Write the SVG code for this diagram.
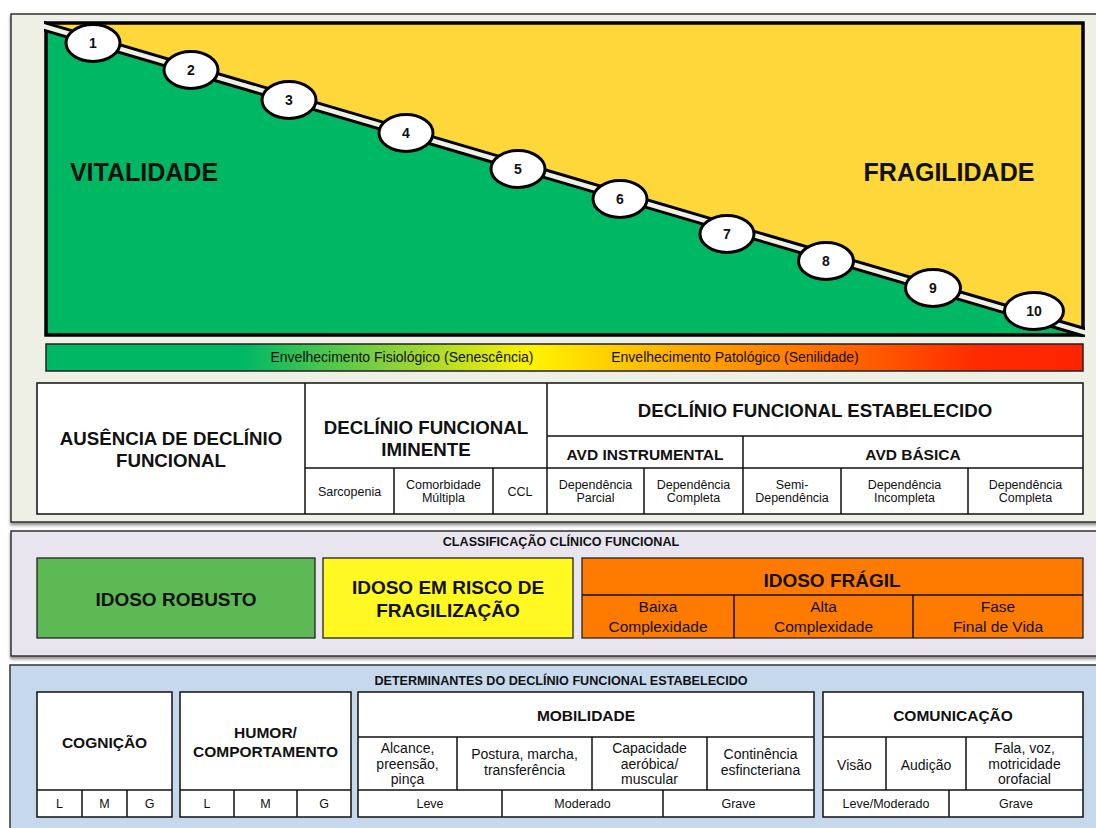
<svg xmlns="http://www.w3.org/2000/svg" width="1096" height="828" viewBox="0 0 1096 828">
<defs>
<linearGradient id="bar" x1="0" y1="0" x2="1" y2="0">
<stop offset="0" stop-color="#00b864"/>
<stop offset="0.19" stop-color="#00b864"/>
<stop offset="0.34" stop-color="#8fd23a"/>
<stop offset="0.47" stop-color="#fff200"/>
<stop offset="0.62" stop-color="#ffa800"/>
<stop offset="0.8" stop-color="#ff5a00"/>
<stop offset="0.9" stop-color="#ff2a00"/>
<stop offset="1" stop-color="#ff2400"/>
</linearGradient>
<clipPath id="chartClip"><rect x="44" y="20" width="1041" height="317"/></clipPath>
<filter id="sh" x="-5%" y="-5%" width="110%" height="115%">
<feDropShadow dx="0" dy="2.5" stdDeviation="1.5" flood-color="#000" flood-opacity="0.45"/>
</filter>
</defs>
<style>
text{font-family:"Liberation Sans",Arial,sans-serif;fill:#111;text-anchor:middle}
.b{font-weight:bold}
.panel{stroke:#333;stroke-width:1.5}
.cell{fill:#fff;stroke:#111;stroke-width:1.5}
.ln{stroke:#111;stroke-width:1.5;fill:none}
.num{font-weight:bold;font-size:14px}
.el{fill:#fff;stroke:#000;stroke-width:3}
.s{font-size:12.5px}
.m{font-size:14px}
.h{font-weight:bold;font-size:18.7px}
.h2{font-weight:bold;font-size:15.5px}
.cls{font-weight:bold;font-size:19px}
.t{font-weight:bold;font-size:12.6px}
</style>
<rect width="1096" height="828" fill="#ffffff"/>

<g id="panel-top">
<rect class="panel" x="11" y="14" width="1100" height="508" fill="#eef0e5" filter="url(#sh)"/>
</g>

<g id="chart">
<rect x="46" y="23" width="1037" height="312" fill="#fed73b"/>
<polygon points="46,27 1083,332 1083,335 46,335" fill="#00b864"/>
<rect x="46" y="23" width="1037" height="312" fill="none" stroke="#000" stroke-width="3.5"/>
<g clip-path="url(#chartClip)">
<line x1="40" y1="25.2" x2="1090" y2="334" stroke="#000" stroke-width="10.5"/>
<line x1="40" y1="25.2" x2="1090" y2="334" stroke="#eef0e4" stroke-width="4.5"/>
</g>
<text x="144" y="181" class="b" style="font-size:25px">VITALIDADE</text>
<text x="949" y="181" class="b" style="font-size:25px">FRAGILIDADE</text>
</g>

<g id="steps">
<g id="step1"><ellipse class="el" cx="93" cy="43" rx="27" ry="18.5"/><text class="num" x="93" y="48">1</text></g>
<g id="step2"><ellipse class="el" cx="191" cy="70" rx="27" ry="18.5"/><text class="num" x="191" y="75">2</text></g>
<g id="step3"><ellipse class="el" cx="289" cy="100" rx="27" ry="18.5"/><text class="num" x="289" y="105">3</text></g>
<g id="step4"><ellipse class="el" cx="406" cy="133" rx="27" ry="18.5"/><text class="num" x="406" y="138">4</text></g>
<g id="step5"><ellipse class="el" cx="518" cy="169" rx="27" ry="18.5"/><text class="num" x="518" y="174">5</text></g>
<g id="step6"><ellipse class="el" cx="620" cy="199" rx="27" ry="18.5"/><text class="num" x="620" y="204">6</text></g>
<g id="step7"><ellipse class="el" cx="727" cy="234" rx="27" ry="18.5"/><text class="num" x="727" y="239">7</text></g>
<g id="step8"><ellipse class="el" cx="826" cy="261" rx="27.5" ry="18.5"/><text class="num" x="826" y="266">8</text></g>
<g id="step9"><ellipse class="el" cx="933" cy="288" rx="27.5" ry="18.5"/><text class="num" x="933" y="293">9</text></g>
<g id="step10"><ellipse class="el" cx="1034" cy="311" rx="29.5" ry="18.5"/><text class="num" x="1034" y="316">10</text></g>
</g>

<g id="bar-group">
<rect x="46" y="344" width="1037" height="27" fill="url(#bar)" stroke="#222" stroke-width="1.5"/>
<text x="402" y="362" style="font-size:14px">Envelhecimento Fisiológico (Senescência)</text>
<text x="735" y="362" style="font-size:14px">Envelhecimento Patológico (Senilidade)</text>
</g>

<g id="table-decline">
<rect class="cell" x="37" y="383" width="1046" height="131"/>
<path class="ln" d="M305 383V514M547 383V514M305 468H547M394 468V514M493 468V514M547 436H1083M547 468H1083M743 436V514M644 468V514M841 468V514M968 468V514"/>
<text class="h" x="171" y="445">AUSÊNCIA DE DECLÍNIO</text>
<text class="h" x="171" y="467">FUNCIONAL</text>
<text class="h" x="426" y="434">DECLÍNIO FUNCIONAL</text>
<text class="h" x="426" y="456">IMINENTE</text>
<text class="h" x="815" y="417">DECLÍNIO FUNCIONAL ESTABELECIDO</text>
<text class="h2" x="645" y="460">AVD INSTRUMENTAL</text>
<text class="h2" x="913" y="460">AVD BÁSICA</text>
<text class="s" x="349.5" y="496">Sarcopenia</text>
<text class="s" x="443.5" y="489">Comorbidade</text>
<text class="s" x="443.5" y="502">Múltipla</text>
<text class="s" x="520" y="496">CCL</text>
<text class="s" x="595.5" y="489">Dependência</text>
<text class="s" x="595.5" y="502">Parcial</text>
<text class="s" x="693.5" y="489">Dependência</text>
<text class="s" x="693.5" y="502">Completa</text>
<text class="s" x="792" y="489">Semi-</text>
<text class="s" x="792" y="502">Dependência</text>
<text class="s" x="904.5" y="489">Dependência</text>
<text class="s" x="904.5" y="502">Incompleta</text>
<text class="s" x="1025.5" y="489">Dependência</text>
<text class="s" x="1025.5" y="502">Completa</text>
</g>

<g id="panel-classificacao">
<rect class="panel" x="11" y="531" width="1100" height="125" fill="#e9e5ef" filter="url(#sh)"/>
<text class="t" x="561" y="546">CLASSIFICAÇÃO CLÍNICO FUNCIONAL</text>
</g>
<g id="idoso-robusto">
<rect x="37" y="558" width="278" height="80" fill="#5db954" stroke="#222" stroke-width="1.3"/>
<text class="cls" x="176" y="606">IDOSO ROBUSTO</text>
</g>
<g id="idoso-risco">
<rect x="323" y="558" width="250" height="80" fill="#fff823" stroke="#222" stroke-width="1.3"/>
<text class="cls" x="448" y="594">IDOSO EM RISCO DE</text>
<text class="cls" x="448" y="617">FRAGILIZAÇÃO</text>
</g>
<g id="idoso-fragil">
<rect x="582" y="558" width="501" height="80" fill="#ff7b00" stroke="#222" stroke-width="1.3"/>
<path class="ln" d="M582 595H1083M734 595V638M913 595V638"/>
<text class="cls" x="832" y="587">IDOSO FRÁGIL</text>
<text x="658" y="612" style="font-size:15.5px">Baixa</text>
<text x="658" y="632" style="font-size:15.5px">Complexidade</text>
<text x="823.5" y="612" style="font-size:15.5px">Alta</text>
<text x="823.5" y="632" style="font-size:15.5px">Complexidade</text>
<text x="998" y="612" style="font-size:15.5px">Fase</text>
<text x="998" y="632" style="font-size:15.5px">Final de Vida</text>
</g>

<g id="panel-determinantes">
<rect class="panel" x="10" y="665" width="1100" height="175" fill="#c6d9ec"/>
<text class="t" x="561" y="685">DETERMINANTES DO DECLÍNIO FUNCIONAL ESTABELECIDO</text>
</g>
<g id="cognicao">
<rect class="cell" x="37" y="692" width="135" height="125"/>
<path class="ln" d="M37 790H172M82 790V817M127 790V817"/>
<text class="h2" x="104.5" y="748">COGNIÇÃO</text>
<text class="s" x="59.5" y="808">L</text>
<text class="s" x="104.5" y="808">M</text>
<text class="s" x="149.5" y="808">G</text>
</g>
<g id="humor">
<rect class="cell" x="180" y="692" width="171" height="125"/>
<path class="ln" d="M180 790H351M234 790V817M297 790V817"/>
<text class="h2" x="265.5" y="738">HUMOR/</text>
<text class="h2" x="265.5" y="757">COMPORTAMENTO</text>
<text class="s" x="207" y="808">L</text>
<text class="s" x="265.5" y="808">M</text>
<text class="s" x="324" y="808">G</text>
</g>
<g id="mobilidade">
<rect class="cell" x="358" y="692" width="456" height="125"/>
<path class="ln" d="M358 737H814M358 790H814M457 737V790M592 737V790M707 737V790M502 790V817M663 790V817"/>
<text class="h2" x="586" y="721">MOBILIDADE</text>
<text class="m" x="407.5" y="753">Alcance,</text>
<text class="m" x="407.5" y="768.5">preensão,</text>
<text class="m" x="407.5" y="784">pinça</text>
<text class="m" x="524.5" y="759">Postura, marcha,</text>
<text class="m" x="524.5" y="775">transferência</text>
<text class="m" x="649.5" y="753">Capacidade</text>
<text class="m" x="649.5" y="768.5">aeróbica/</text>
<text class="m" x="649.5" y="784">muscular</text>
<text class="m" x="760.5" y="759">Continência</text>
<text class="m" x="760.5" y="775">esfincteriana</text>
<text class="s" x="430" y="808">Leve</text>
<text class="s" x="582.5" y="808">Moderado</text>
<text class="s" x="738.5" y="808">Grave</text>
</g>
<g id="comunicacao">
<rect class="cell" x="823" y="692" width="260" height="125"/>
<path class="ln" d="M823 737H1083M823 790H1083M886 737V790M966 737V790M949 790V817"/>
<text class="h2" x="953" y="721">COMUNICAÇÃO</text>
<text class="m" x="854.5" y="770">Visão</text>
<text class="m" x="926" y="770">Audição</text>
<text class="m" x="1024.5" y="753">Fala, voz,</text>
<text class="m" x="1024.5" y="768.5">motricidade</text>
<text class="m" x="1024.5" y="784">orofacial</text>
<text class="s" x="886" y="808">Leve/Moderado</text>
<text class="s" x="1016" y="808">Grave</text>
</g>
<g id="connectors"></g>
</svg>
